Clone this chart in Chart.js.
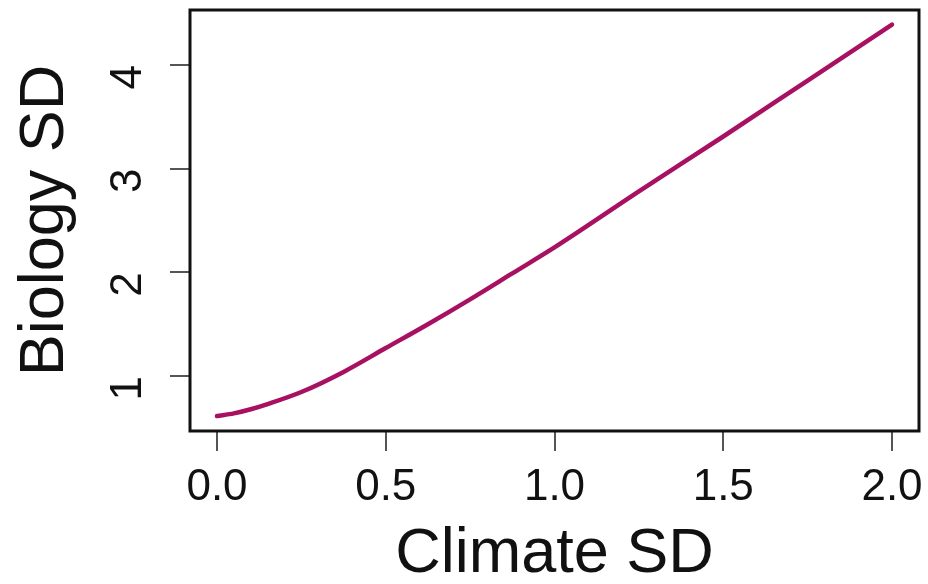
<!DOCTYPE html>
<html>
<head>
<meta charset="utf-8">
<script src="https://cdn.jsdelivr.net/npm/chart.js@4"></script>
<style>
  html, body { margin: 0; padding: 0; background: #fff; }
  #wrap { width: 928px; height: 584px; }
</style>
</head>
<body>
<div id="wrap"><canvas id="chart" width="928" height="584"></canvas></div>
<script>
// values
const climateSD = [0, 0.05, 0.1, 0.15, 0.25, 0.375, 0.5, 0.625, 0.75, 0.875, 1.0, 1.25, 1.5, 1.75, 2.0];
const biologySD = [0.614, 0.64, 0.68, 0.73, 0.846, 1.04, 1.27, 1.5, 1.74, 1.99, 2.24, 2.78, 3.31, 3.85, 4.39];
const xTicks = [0, 0.5, 1.0, 1.5, 2.0];
const yTicks = [1, 2, 3, 4];

const fontFamily = "'Liberation Sans', Arial, Helvetica, sans-serif";

// R-style box around the plot region
const boxPlugin = {
    id: 'box',
    afterDraw(chart) {
        const a = chart.chartArea;
        const ctx = chart.ctx;
        ctx.save();
        ctx.strokeStyle = '#111';
        ctx.lineWidth = 3;
        ctx.strokeRect(a.left, a.top, a.right - a.left, a.bottom - a.top);
        ctx.restore();
    }
};

const ctx = document.getElementById("chart").getContext("2d");
new Chart(ctx, {
    type: 'line',
    data: {
        datasets: [{
            label: 'Biology SD',
            data: climateSD.map((x, i) => ({ x: x, y: biologySD[i] })),
            borderColor: '#a81161',
            borderWidth: 4.5,
            pointRadius: 0,
            cubicInterpolationMode: 'monotone',
            borderCapStyle: 'round',
            fill: false,
        }]
    },
    options: {
        responsive: false,
        animation: false,
        layout: { padding: { top: 10, right: 9, left: 0, bottom: 0 } },
        plugins: {
            legend: { display: false },
            tooltip: { enabled: false },
        },
        scales: {
            x: {
                type: 'linear',
                min: -0.08,
                max: 2.08,
                afterBuildTicks: (scale) => { scale.ticks = xTicks.map(v => ({ value: v })); },
                afterFit: (scale) => {
                    scale.height = 153;
                    scale.paddingLeft = 0;
                    scale.paddingRight = 0;
                },
                grid: { drawOnChartArea: false, drawTicks: true, tickLength: 20, color: '#555', lineWidth: 2 },
                border: { display: false },
                ticks: {
                    callback: (v) => Number(v).toFixed(1),
                    color: '#111',
                    font: { family: fontFamily, size: 44 },
                    padding: 10,
                    maxRotation: 0,
                    autoSkip: false,
                },
                title: {
                    display: true,
                    text: 'Climate SD',
                    color: '#111',
                    font: { family: fontFamily, size: 63 },
                    padding: { top: 0, bottom: -8 },
                },
            },
            y: {
                type: 'linear',
                min: 0.47,
                max: 4.53,
                afterBuildTicks: (scale) => { scale.ticks = yTicks.map(v => ({ value: v })); },
                afterFit: (scale) => {
                    scale.width = 190;
                    scale.paddingTop = 0;
                    scale.paddingBottom = 0;
                },
                grid: { drawOnChartArea: false, drawTicks: true, tickLength: 20, color: '#555', lineWidth: 2 },
                border: { display: false },
                ticks: {
                    callback: (v) => String(v),
                    color: '#111',
                    font: { family: fontFamily, size: 44 },
                    minRotation: 90,
                    maxRotation: 90,
                    padding: 41,
                    autoSkip: false,
                },
                title: {
                    display: true,
                    text: 'Biology SD',
                    color: '#111',
                    font: { family: fontFamily, size: 63 },
                    padding: { top: 8, bottom: 0 },
                },
            },
        },
    },
    plugins: [boxPlugin],
});
</script>
</body>
</html>
